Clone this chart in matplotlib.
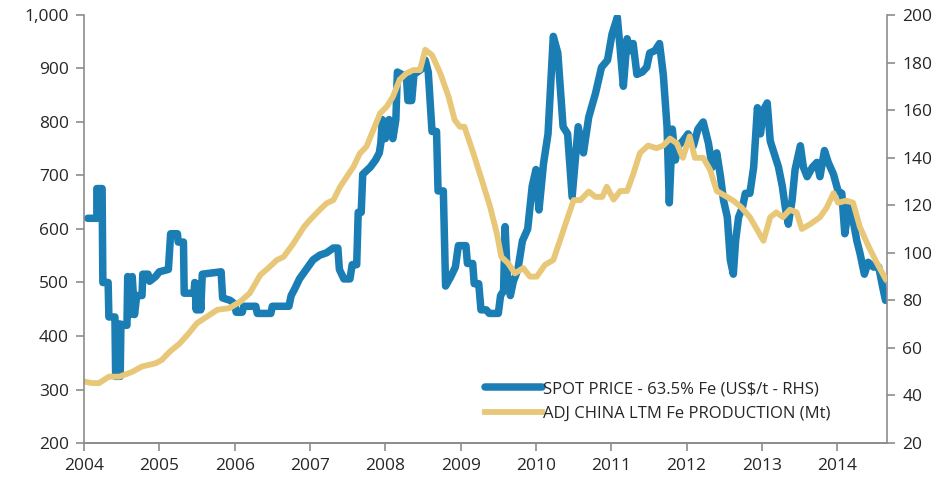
import matplotlib
matplotlib.use("Agg")

import matplotlib.pyplot as plt

# Spot price, US$/t (right axis)
spot_years = [
    2004.05, 2004.17, 2004.17, 2004.24, 2004.25, 2004.32, 2004.33, 2004.41, 2004.42, 2004.43,
    2004.45, 2004.46, 2004.48, 2004.49, 2004.50, 2004.57, 2004.58, 2004.61, 2004.64, 2004.67,
    2004.70, 2004.77, 2004.78, 2004.85, 2004.87, 2004.95, 2005.00, 2005.12, 2005.15, 2005.24,
    2005.25, 2005.32, 2005.33, 2005.46, 2005.47, 2005.49, 2005.50, 2005.52, 2005.53, 2005.55,
    2005.57, 2005.82, 2005.84, 2005.94, 2006.00, 2006.02, 2006.10, 2006.12, 2006.28, 2006.30,
    2006.48, 2006.50, 2006.72, 2006.75, 2006.80, 2006.86, 2006.95, 2007.04, 2007.13, 2007.22,
    2007.31, 2007.37, 2007.39, 2007.45, 2007.53, 2007.56, 2007.62, 2007.64, 2007.68, 2007.70,
    2007.80, 2007.87, 2007.92, 2007.94, 2007.96, 2008.00, 2008.05, 2008.10, 2008.14, 2008.16,
    2008.28, 2008.30, 2008.35, 2008.38, 2008.47, 2008.53, 2008.57, 2008.62, 2008.68, 2008.70,
    2008.77, 2008.80, 2008.87, 2008.93, 2008.97, 2009.07, 2009.09, 2009.16, 2009.18, 2009.24,
    2009.27, 2009.34, 2009.38, 2009.50, 2009.53, 2009.57, 2009.59, 2009.62, 2009.66, 2009.70,
    2009.76, 2009.82, 2009.89, 2009.95, 2010.00, 2010.04, 2010.10, 2010.16, 2010.23, 2010.29,
    2010.36, 2010.42, 2010.48, 2010.56, 2010.63, 2010.70, 2010.79, 2010.87, 2010.95, 2011.01,
    2011.08, 2011.12, 2011.16, 2011.21, 2011.25, 2011.29, 2011.34, 2011.41, 2011.47, 2011.51,
    2011.58, 2011.64, 2011.69, 2011.74, 2011.77, 2011.81, 2011.85, 2011.89, 2011.95, 2012.02,
    2012.09, 2012.15, 2012.22, 2012.29, 2012.34, 2012.40, 2012.45, 2012.49, 2012.54, 2012.58,
    2012.62, 2012.65, 2012.69, 2012.74, 2012.78, 2012.84, 2012.89, 2012.94, 2012.98, 2013.02,
    2013.07, 2013.11, 2013.16, 2013.22, 2013.27, 2013.31, 2013.35, 2013.40, 2013.44, 2013.51,
    2013.55, 2013.60, 2013.67, 2013.73, 2013.77, 2013.83, 2013.88, 2013.95, 2014.01, 2014.06,
    2014.10, 2014.15, 2014.19, 2014.26, 2014.30, 2014.36, 2014.41, 2014.48, 2014.55, 2014.60,
    2014.64,
]
spot_price = [
    114.5, 114.5, 127, 127, 87.5, 87.5, 73, 73, 48, 70,
    48, 70, 48, 70, 69.5, 69.5, 90, 74, 90, 74,
    82, 82, 91, 91, 88, 90, 92, 93, 108, 108,
    104.5, 104.5, 83, 83, 87.5, 76, 87, 76, 87, 76,
    91, 92, 81, 80, 78.5, 75, 75, 77.5, 77.5, 74.5,
    74.5, 77.5, 77.5, 82, 85, 89, 93, 97, 99, 100,
    102, 102, 93, 89, 89, 95, 95, 117, 117, 133,
    136, 139, 142, 146, 156, 148, 156, 148, 156, 176,
    174, 164, 164, 175, 177, 181, 176, 151, 151, 126,
    126, 86, 90, 94, 103, 103, 95.5, 95.5, 87, 87,
    76, 76, 74.5, 74.5, 82, 84, 111, 90, 82, 88,
    93, 105, 110, 128, 135, 118, 137.5, 150, 191, 184,
    153, 150, 123.5, 153, 142, 157, 167, 178, 181, 192,
    199, 185, 170, 190, 185, 188, 175, 176, 178, 184,
    185, 188, 175, 153, 121, 152, 139, 145, 147, 150,
    145, 152, 155, 146, 136, 142, 132, 122, 115, 97,
    91, 105, 115, 119, 125, 125, 136, 161, 150, 160,
    163, 147, 142, 136, 128, 119, 112, 122, 135, 145,
    136, 132, 136, 138, 132, 143, 138, 133, 126, 125,
    108, 119, 117, 105, 100, 91, 96, 94, 94, 86,
    80,
]

# Adjusted China LTM Fe production, Mt (left axis)
prod_years = [
    2004.00, 2004.10, 2004.20, 2004.33, 2004.47, 2004.64, 2004.77, 2004.95, 2005.03, 2005.14,
    2005.27, 2005.39, 2005.50, 2005.63, 2005.77, 2005.93, 2006.07, 2006.20, 2006.34, 2006.47,
    2006.56, 2006.65, 2006.78, 2006.92, 2007.00, 2007.13, 2007.22, 2007.31, 2007.40, 2007.49,
    2007.58, 2007.66, 2007.75, 2007.84, 2007.93, 2008.02, 2008.10, 2008.19, 2008.28, 2008.37,
    2008.46, 2008.53, 2008.62, 2008.73, 2008.84, 2008.92, 2008.99, 2009.05, 2009.17, 2009.28,
    2009.39, 2009.48, 2009.54, 2009.63, 2009.72, 2009.83, 2009.92, 2010.01, 2010.12, 2010.23,
    2010.32, 2010.41, 2010.50, 2010.59, 2010.70, 2010.79, 2010.88, 2010.94, 2011.03, 2011.12,
    2011.21, 2011.29, 2011.38, 2011.49, 2011.60, 2011.69, 2011.78, 2011.87, 2011.95, 2012.04,
    2012.11, 2012.22, 2012.31, 2012.40, 2012.51, 2012.62, 2012.73, 2012.84, 2012.93, 2013.02,
    2013.11, 2013.19, 2013.28, 2013.37, 2013.46, 2013.53, 2013.64, 2013.77, 2013.86, 2013.95,
    2014.01, 2014.12, 2014.21, 2014.30, 2014.41, 2014.52, 2014.64,
]
china_prod = [
    315, 312, 312, 324, 324, 333, 343, 349, 355, 371,
    386, 405, 424, 436, 449, 452, 464, 480, 514, 530,
    542, 548, 573, 604, 617, 636, 648, 654, 679, 698,
    717, 741, 754, 785, 816, 829, 847, 879, 891, 897,
    897, 935, 925, 891, 847, 804, 791, 791, 741, 692,
    642, 592, 548, 536, 517, 527, 511, 511, 533, 542,
    579, 617, 654, 654, 670, 660, 660, 679, 655, 671,
    671, 702, 742, 756, 751, 756, 769, 760, 733, 773,
    733, 733, 711, 671, 662, 653, 640, 622, 600, 578,
    622, 631, 622, 636, 631, 600, 609, 622, 640, 667,
    649, 653, 649, 604, 569, 538, 507,
]

year_ticks = list(range(2004, 2015))
left_ticks = [200, 300, 400, 500, 600, 700, 800, 900, 1000]
right_ticks = [20, 40, 60, 80, 100, 120, 140, 160, 180, 200]

BLUE = "#1a7db4"
GOLD = "#e8c878"
GREY = "#8c8c8c"
TEXT = "#262626"

plt.rcParams["font.family"] = ["Open Sans", "DejaVu Sans"]


def main():
    fig = plt.figure(figsize=(9.42, 4.83), dpi=100)
    ax = fig.add_axes([0.0892, 0.0828, 0.8524, 0.8862])
    ax2 = ax.twinx()

    # blue on the right axis, gold drawn on top on the left axis
    blue, = ax2.plot(spot_years, spot_price, color=BLUE, linewidth=5.4,
                     solid_joinstyle="round", solid_capstyle="round")
    gold, = ax.plot(prod_years, china_prod, color=GOLD, linewidth=4.2,
                    solid_joinstyle="round")
    ax.set_zorder(ax2.get_zorder() + 1)
    ax.patch.set_visible(False)

    ax.set_xlim(2004, 2014.66)
    ax.set_ylim(200, 1000)
    ax2.set_ylim(20, 200)

    ax.set_xticks(year_ticks)
    ax.set_yticks(left_ticks)
    ax.set_yticklabels([f"{v:,}" for v in left_ticks])
    ax2.set_yticks(right_ticks)

    for a in (ax, ax2):
        a.spines["top"].set_visible(False)
        for s in ("left", "right", "bottom"):
            a.spines[s].set_color(GREY)
            a.spines[s].set_linewidth(1.2)
        a.tick_params(axis="both", direction="out", length=6, width=1.2,
                      color=GREY, labelsize=12.5, labelcolor=TEXT, pad=5)
    ax2.spines["left"].set_visible(False)
    ax.spines["right"].set_visible(False)

    leg = ax.legend([blue, gold],
                    ["SPOT PRICE - 63.5% Fe (US$/t - RHS)",
                     "ADJ CHINA LTM Fe PRODUCTION (Mt)"],
                    loc="lower left", bbox_to_anchor=(0.491, 0.035),
                    frameon=False, fontsize=12, handlelength=3.4,
                    handletextpad=0.1, labelspacing=0.5, borderaxespad=0)
    for t in leg.get_texts():
        t.set_color(TEXT)

    fig.savefig("out.png", dpi=100)


if __name__ == "__main__":
    main()
